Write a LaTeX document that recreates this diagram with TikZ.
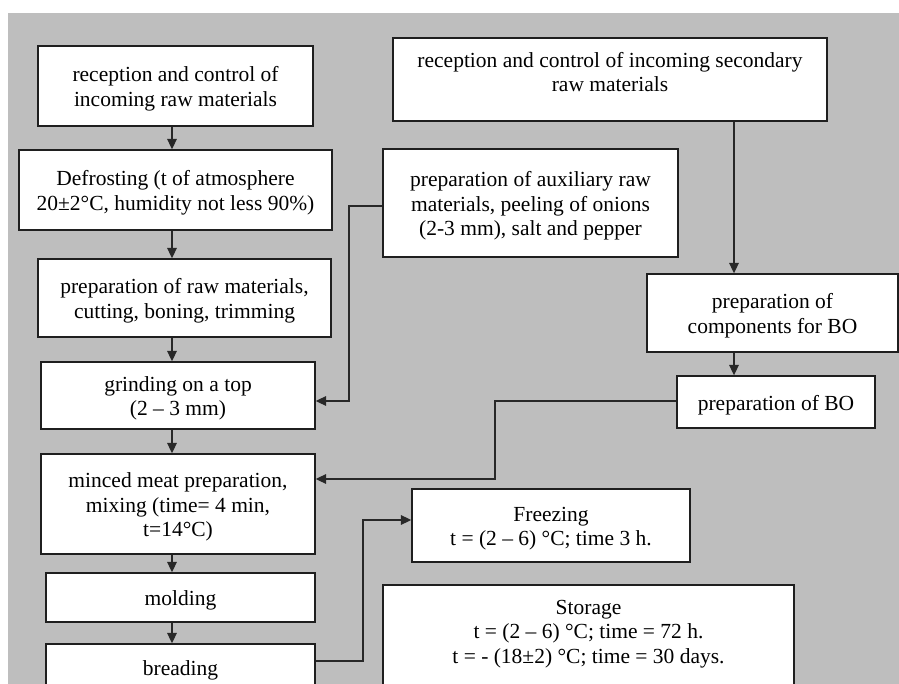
\documentclass[tikz,border=0pt]{standalone}
\usepackage{fontspec}
\setmainfont{Liberation Serif}
\usetikzlibrary{arrows.meta}
\definecolor{bggray}{RGB}{190,190,190}
\definecolor{linegray}{RGB}{40,40,40}
\newcommand{\topstrut}{\rule{0pt}{21pt}}
\begin{document}
\begin{tikzpicture}[x=1pt,y=-1pt,
  box/.style={draw=black!88,line width=1.3pt,fill=white,inner sep=0pt,align=center,
    font=\fontsize{21.5}{24.5}\selectfont},
  txt/.style={inner sep=0pt,align=center,font=\fontsize{21.5}{24.5}\selectfont},
  conn/.style={draw=linegray,line width=1.7pt},
  arr/.style={conn,-{Triangle[length=10.5pt,width=9.5pt]}}]
\useasboundingbox (0,0) rectangle (899,684);
\clip (0,0) rectangle (899,684);
\fill[bggray] (8,13) rectangle (899,684);
% left column
\node[box,minimum width=275pt,minimum height=80pt] (raw) at (175.5,86) {\topstrut reception and control of\\incoming raw materials};
\node[box,minimum width=313pt,minimum height=80pt] (defrost) at (175.5,190) {\topstrut Defrosting (t of atmosphere\\20±2°C, humidity not less 90\%)};
\node[box,minimum width=293pt,minimum height=78pt] (prepraw) at (184.5,298) {\topstrut preparation of raw materials,\\cutting, boning, trimming};
\node[box,minimum width=274pt,minimum height=67pt] (grind) at (178,395.5) {\topstrut grinding on a top\\(2 – 3 mm)};
\node[box,minimum width=274pt,minimum height=100pt] (minced) at (178,504) {\topstrut minced meat preparation,\\mixing (time= 4 min,\\t=14°C)};
\node[box,minimum width=269pt,minimum height=49pt] (molding) at (180.5,597.5) {\topstrut molding};
\node[box,minimum width=269pt,minimum height=46pt] (breading) at (180.5,667) {\topstrut breading};
% right part
\node[box,minimum width=434pt,minimum height=83pt] (sec) at (610,79.5) {};
\node[txt] (sectxt) at (610,72) {reception and control of incoming secondary\\raw materials};
\node[box,minimum width=295pt,minimum height=108pt] (aux) at (530.5,203) {\topstrut preparation of auxiliary raw\\materials, peeling of onions\\(2-3 mm), salt and pepper};
\node[box,minimum width=251pt,minimum height=78pt] (comp) at (772.5,313) {\topstrut preparation of\\components for BO};
\node[box,minimum width=198pt,minimum height=52pt] (bo) at (776,402) {\topstrut preparation of BO};
\node[box,minimum width=278pt,minimum height=73pt] (freez) at (551,525.5) {\topstrut Freezing\\t = (2 – 6) °C; time 3 h.};
\node[box,minimum width=411pt,minimum height=115pt] (stor) at (588.5,642.5) {};
\node[txt] (stortxt) at (588.5,634) {Storage\\t = (2 – 6) °C; time = 72 h.\\t = - (18±2) °C; time = 30 days.};
% connector coordinates
\coordinate (ax) at (172,0);
\coordinate (cx) at (734,0);
\coordinate (a1) at (349,206);
\coordinate (a2) at (349,401);
\coordinate (b1) at (495,401);
\coordinate (b2) at (495,479);
\coordinate (f1) at (363,661);
\coordinate (f2) at (363,520);
% left column arrows
\draw[arr] (raw.south -| ax) -- (defrost.north -| ax);
\draw[arr] (defrost.south -| ax) -- (prepraw.north -| ax);
\draw[arr] (prepraw.south -| ax) -- (grind.north -| ax);
\draw[arr] (grind.south -| ax) -- (minced.north -| ax);
\draw[arr] (minced.south -| ax) -- (molding.north -| ax);
\draw[arr] (molding.south -| ax) -- (breading.north -| ax);
% auxiliary to grinding
\draw[arr] (aux.west |- a1) -- (a1) -- (a2) -- (grind.east |- a2);
% secondary chain
\draw[arr] (sec.south -| cx) -- (comp.north -| cx);
\draw[arr] (comp.south -| cx) -- (bo.north -| cx);
\draw[arr] (bo.west |- b1) -- (b1) -- (b2) -- (minced.east |- b2);
% breading to freezing
\draw[arr] (breading.east |- f1) -- (f1) -- (f2) -- (freez.west |- f2);
\end{tikzpicture}
\end{document}
